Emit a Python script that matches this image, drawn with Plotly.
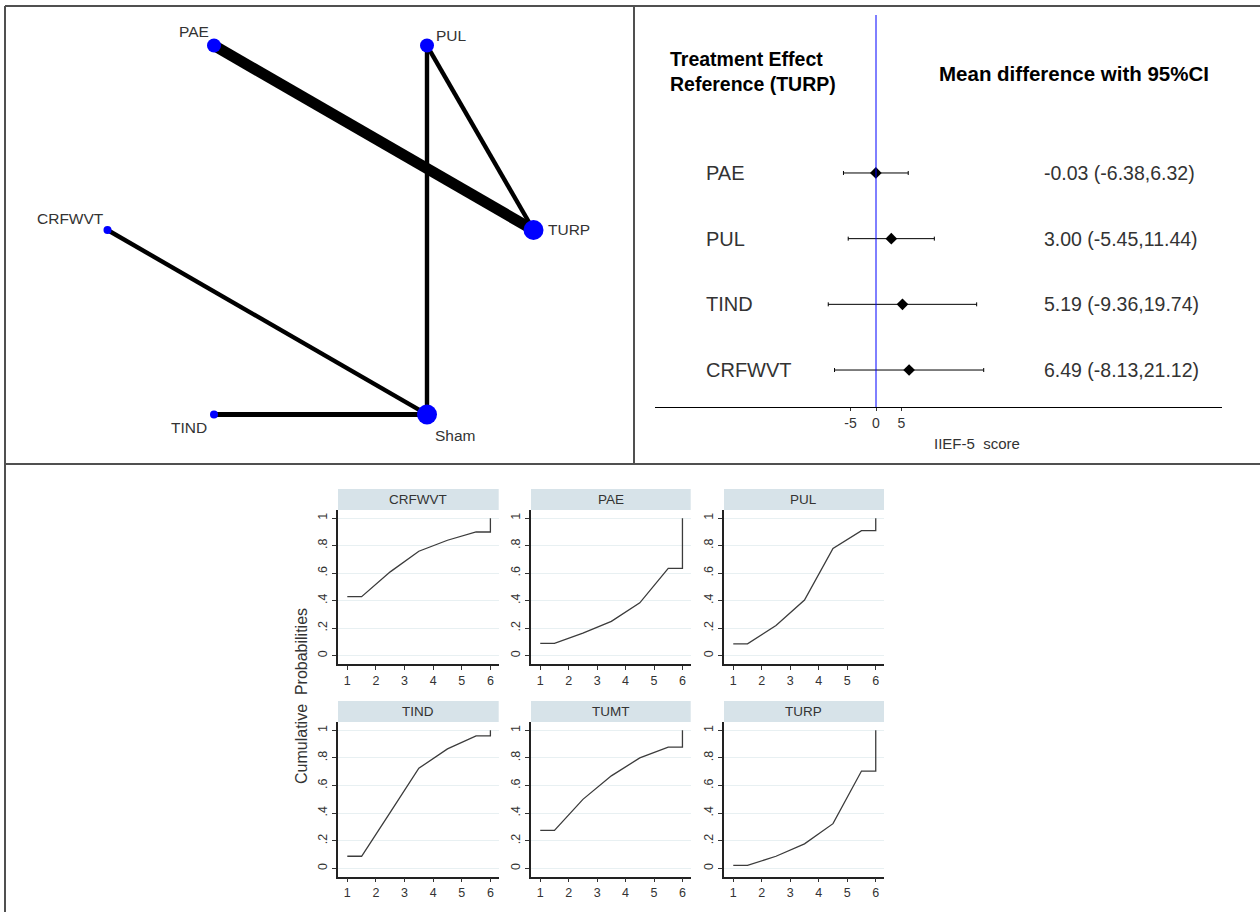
import numpy as np
import plotly.graph_objects as go

W, H = 1260, 912
FONT = "Liberation Sans, Arial, sans-serif"

# ---------------- data ----------------
# network
nodes = ["PAE", "PUL", "TURP", "Sham", "TIND", "CRFWVT"]
node_weight = [4, 4, 7, 7, 1, 1]
edge_from = ["PAE", "PUL", "PUL", "CRFWVT", "TIND"]
edge_to = ["TURP", "TURP", "Sham", "Sham", "Sham"]
edge_weight = [5, 2, 2, 2, 2.3]

# forest plot (mean difference vs TURP, IIEF-5 score)
forest_names = ["PAE", "PUL", "TIND", "CRFWVT"]
forest_md = [-0.03, 3.00, 5.19, 6.49]
forest_lo = [-6.38, -5.45, -9.36, -8.13]
forest_hi = [6.32, 11.44, 19.74, 21.12]
forest_ticks = [-5, 0, 5]

# cumulative ranking probabilities (ranks 1..5; rank 6 = 1)
rank_treat = ["CRFWVT", "PAE", "PUL", "TIND", "TUMT", "TURP"]
cum_prob = {
    "CRFWVT": [0.43, 0.61, 0.76, 0.84, 0.90],
    "PAE":    [0.09, 0.165, 0.25, 0.385, 0.635],
    "PUL":    [0.087, 0.22, 0.405, 0.78, 0.91],
    "TIND":   [0.088, 0.405, 0.725, 0.865, 0.96],
    "TUMT":   [0.275, 0.50, 0.67, 0.80, 0.878],
    "TURP":   [0.022, 0.088, 0.178, 0.324, 0.705],
}
y_ticks = [0, 0.2, 0.4, 0.6, 0.8, 1]
y_ticktext = ["0", ".2", ".4", ".6", ".8", "1"]
x_ticks = [1, 2, 3, 4, 5, 6]


def px(x):
    return x / W


def py(y):
    return 1 - y / H


fig = go.Figure()
shapes = []
annotations = []

# ---------------- network plot ----------------
ang = np.deg2rad(120 - 60 * np.arange(len(nodes)))
nx = dict(zip(nodes, np.cos(ang)))
ny = dict(zip(nodes, np.sin(ang)))
for a, b, w in zip(edge_from, edge_to, edge_weight):
    fig.add_trace(go.Scatter(x=[nx[a], nx[b]], y=[ny[a], ny[b]], mode="lines",
                             line=dict(color="black", width=2.2 * w),
                             xaxis="x", yaxis="y", showlegend=False, hoverinfo="skip"))
fig.add_trace(go.Scatter(
    x=[nx[n] for n in nodes], y=[ny[n] for n in nodes], mode="markers",
    marker=dict(color="#0000FF", opacity=1, size=[6 + 2 * w for w in node_weight],
                line=dict(width=0)),
    xaxis="x", yaxis="y", showlegend=False, hoverinfo="skip", cliponaxis=False))
label_shift = {"PAE": (-20, 14), "PUL": (24, 10), "TURP": (35, 0),
               "Sham": (28, -21), "TIND": (-25, -13), "CRFWVT": (-37, 11)}
for n in nodes:
    sx, sy = label_shift[n]
    annotations.append(dict(xref="x", yref="y", x=nx[n], y=ny[n], text=n,
                            xshift=sx, yshift=sy, showarrow=False,
                            xanchor="center", yanchor="middle",
                            font=dict(family=FONT, size=15.5, color="#333333")))

cx, cy, R = 320.5, 230, 213
net_axis = dict(showgrid=False, zeroline=False, showticklabels=False, showline=False, ticks="")
fig.update_layout(
    xaxis=dict(domain=[px(5), px(634)], range=[(5 - cx) / R, (634 - cx) / R], **net_axis),
    yaxis=dict(domain=[py(464), py(6)], range=[(cy - 464) / R, (cy - 6) / R], **net_axis),
)

# ---------------- forest plot ----------------
rows = list(range(len(forest_names), 0, -1))
fig.add_trace(go.Scatter(
    x=forest_md, y=rows, mode="markers",
    marker=dict(symbol="diamond", color="black", size=9),
    error_x=dict(type="data", symmetric=False,
                 array=[h - m for h, m in zip(forest_hi, forest_md)],
                 arrayminus=[m - l for l, m in zip(forest_lo, forest_md)],
                 color="black", thickness=1, width=2),
    xaxis="x2", yaxis="y2", showlegend=False, hoverinfo="skip"))

scale = 5.1
x0px = 876
fig.update_layout(
    xaxis2=dict(domain=[px(655), px(1222)],
                range=[(655 - x0px) / scale, (1222 - x0px) / scale],
                tickvals=forest_ticks, ticktext=[str(t) for t in forest_ticks],
                ticks="outside", ticklen=3, tickcolor="#333",
                showline=True, linecolor="black", linewidth=1,
                showgrid=False, zeroline=False,
                tickfont=dict(family=FONT, size=14, color="#333333"),
                anchor="y2"),
    yaxis2=dict(domain=[py(407), py(15)], range=[0.437, 6.405],
                showgrid=False, zeroline=False, showticklabels=False,
                showline=False, ticks="", anchor="x2"),
)
shapes.append(dict(type="line", xref="x2", yref="y2 domain", x0=0, x1=0, y0=0, y1=1,
                   line=dict(color="#0000FF", width=1)))
for name, r, m, l, h in zip(forest_names, rows, forest_md, forest_lo, forest_hi):
    annotations.append(dict(xref="paper", yref="y2", x=px(704), y=r, text=name,
                            xanchor="left", yanchor="middle", showarrow=False,
                            font=dict(family=FONT, size=20, color="#333333")))
    annotations.append(dict(xref="paper", yref="y2", x=px(1042), y=r,
                            text=f"{m:.2f} ({l:.2f},{h:.2f})",
                            xanchor="left", yanchor="middle", showarrow=False,
                            font=dict(family=FONT, size=19.5, color="#333333")))
annotations.append(dict(xref="paper", yref="paper", x=px(668), y=py(71),
                        text="<b>Treatment Effect</b><br><b>Reference (TURP)</b>",
                        align="left", xanchor="left", yanchor="middle", showarrow=False,
                        font=dict(family=FONT, size=19.5, color="black")))
annotations.append(dict(xref="paper", yref="paper", x=px(937), y=py(73),
                        text="<b>Mean difference with 95%CI</b>",
                        xanchor="left", yanchor="middle", showarrow=False,
                        font=dict(family=FONT, size=20.5, color="black")))
annotations.append(dict(xref="paper", yref="paper", x=px(977), y=py(443),
                        text="IIEF-5  score", xanchor="center", yanchor="middle", showarrow=False,
                        font=dict(family=FONT, size=15, color="#333333")))

# ---------------- cumulative ranking panels ----------------
col_px = [(338, 498.7), (531, 690.7), (724, 884)]
row_px = [(489, 510, 664), (701, 722, 876.7)]
for i, t in enumerate(rank_treat):
    r, c = divmod(i, 3)
    k = i + 3
    xl, xr = col_px[c]
    st, pt, pb = row_px[r]
    cp = cum_prob[t]
    xs = [1, 1.5, 2.5, 3.5, 4.5, 5.5, 6, 6]
    ys = [cp[0], cp[0], cp[1], cp[2], cp[3], cp[4], cp[4], 1]
    fig.add_trace(go.Scatter(x=xs, y=ys, mode="lines",
                             line=dict(color="#3c3c3c", width=1.3),
                             xaxis=f"x{k}", yaxis=f"y{k}", showlegend=False, hoverinfo="skip"))
    fig.layout[f"xaxis{k}"] = dict(
        domain=[px(xl), px(xr)], range=[0.675, 6.29], anchor=f"y{k}",
        tickvals=x_ticks, ticks="outside", ticklen=4, tickcolor="#333",
        showline=True, linecolor="#222", linewidth=1.5, showgrid=False, zeroline=False,
        tickfont=dict(family=FONT, size=12.5, color="#333333"))
    fig.layout[f"yaxis{k}"] = dict(
        domain=[py(pb), py(pt)], range=[-0.06, 1.06], anchor=f"x{k}",
        tickvals=y_ticks, ticktext=y_ticktext, tickangle=-90,
        ticks="outside", ticklen=4, tickcolor="#333",
        showline=True, linecolor="#222", linewidth=1.5,
        showgrid=True, gridcolor="#E8F0F2", gridwidth=1, zeroline=False,
        tickfont=dict(family=FONT, size=12.5, color="#333333"))
    shapes.append(dict(type="rect", xref="paper", yref="paper",
                       x0=px(xl), x1=px(xr), y0=py(pt), y1=py(st),
                       fillcolor="#D7E3E9", line=dict(width=0), layer="below"))
    annotations.append(dict(xref="paper", yref="paper", x=px((xl + xr) / 2), y=py((st + pt) / 2),
                            text=t, xanchor="center", yanchor="middle", showarrow=False,
                            font=dict(family=FONT, size=13.5, color="#333333")))

annotations.append(dict(xref="paper", yref="paper", x=px(301), y=py(696),
                        text="Cumulative  Probabilities", textangle=-90,
                        xanchor="center", yanchor="middle", showarrow=False,
                        font=dict(family=FONT, size=16, color="#333333")))

# ---------------- panel borders ----------------
bc = dict(color="#505050", width=2)
shapes += [
    dict(type="line", xref="paper", yref="paper", x0=px(5), x1=1, y0=py(6), y1=py(6), line=bc),
    dict(type="line", xref="paper", yref="paper", x0=px(5), x1=px(5), y0=py(6), y1=0, line=bc),
    dict(type="line", xref="paper", yref="paper", x0=px(5), x1=1, y0=py(464), y1=py(464), line=bc),
    dict(type="line", xref="paper", yref="paper", x0=px(634), x1=px(634), y0=py(6), y1=py(464), line=bc),
]

fig.update_layout(
    width=W, height=H, margin=dict(l=0, r=0, t=0, b=0),
    paper_bgcolor="white", plot_bgcolor="white",
    shapes=shapes, annotations=annotations, showlegend=False,
)

fig.write_html("out.html", config={"displayModeBar": False},
               post_script="document.body.style.margin='0';document.body.style.overflow='hidden';")
